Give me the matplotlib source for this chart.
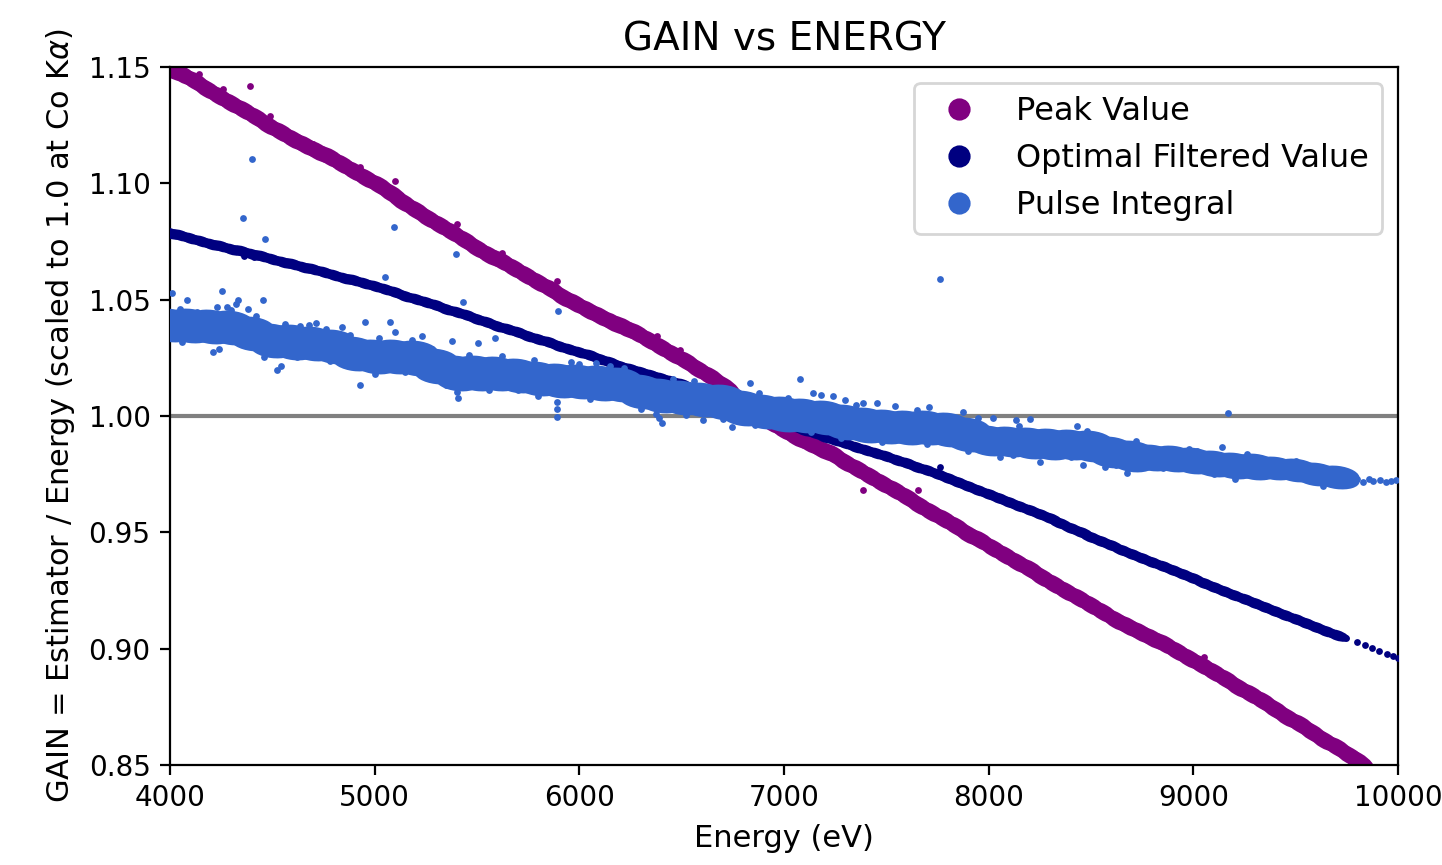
import matplotlib
matplotlib.use("Agg")
import matplotlib.pyplot as plt
from matplotlib.markers import MarkerStyle
from matplotlib.transforms import Affine2D
from matplotlib.lines import Line2D
from matplotlib.ticker import FormatStrFormatter

# ---------------- data ----------------
series_labels = ["Peak Value", "Optimal Filtered Value", "Pulse Integral"]
x_ticks = [4000, 5000, 6000, 7000, 8000, 9000, 10000]
y_ticks = [0.85, 0.90, 0.95, 1.00, 1.05, 1.10, 1.15]

# Peak Value band
peak_energy = [4000, 4060, 4120, 4180, 4240, 4300, 4360, 4420, 4480, 4540,
               4600, 4660, 4720, 4780, 4840, 4900, 4960, 5020, 5080, 5140,
               5200, 5260, 5320, 5380, 5440, 5500, 5560, 5620, 5680, 5740,
               5800, 5860, 5920, 5980, 6040, 6100, 6160, 6220, 6280, 6340,
               6400, 6460, 6520, 6580, 6640, 6700, 6760, 6820, 6880, 6940,
               7000, 7060, 7120, 7180, 7240, 7300, 7360, 7420, 7480, 7540,
               7600, 7660, 7720, 7780, 7840, 7900, 7960, 8020, 8080, 8140,
               8200, 8260, 8320, 8380, 8440, 8500, 8560, 8620, 8680, 8740,
               8800, 8860, 8920, 8980, 9040, 9100, 9160, 9220, 9280, 9340,
               9400, 9460, 9520, 9580, 9640, 9700, 9760, 9800]
peak_gain = [1.1492, 1.1469, 1.1438, 1.1407, 1.1377, 1.1346, 1.1315, 1.1284, 1.1253, 1.1222,
             1.1192, 1.1166, 1.1140, 1.1114, 1.1083, 1.1052, 1.1022, 1.0991, 1.0957, 1.0922,
             1.0887, 1.0852, 1.0822, 1.0791, 1.0755, 1.0721, 1.0693, 1.0667, 1.0636, 1.0606,
             1.0575, 1.0544, 1.0513, 1.0485, 1.0456, 1.0431, 1.0405, 1.0381, 1.0356, 1.0327,
             1.0296, 1.0266, 1.0235, 1.0204, 1.0171, 1.0132, 1.0086, 1.0041, 1.0002, 0.9969,
             0.9938, 0.9909, 0.9884, 0.9859, 0.9835, 0.9804, 0.9773, 0.9742, 0.9711, 0.9680,
             0.9650, 0.9619, 0.9588, 0.9557, 0.9526, 0.9495, 0.9465, 0.9434, 0.9403, 0.9372,
             0.9341, 0.9310, 0.9279, 0.9249, 0.9218, 0.9187, 0.9156, 0.9125, 0.9097, 0.9072,
             0.9047, 0.9020, 0.8991, 0.8960, 0.8929, 0.8899, 0.8868, 0.8837, 0.8806, 0.8775,
             0.8742, 0.8708, 0.8675, 0.8642, 0.8609, 0.8576, 0.8543, 0.8522]
peak_stray_energy = [4142, 4390, 5100, 7386, 7655, 4490, 4930, 5060, 5400, 5890,
                     6380, 6490, 4260, 4700, 5620, 7900, 8450, 9050]
peak_stray_gain = [1.1472, 1.1420, 1.1010, 0.9680, 0.9680, 1.1290, 1.1070, 1.0985, 1.0825, 1.0580,
                   1.0345, 1.0285, 1.1405, 1.1170, 1.0700, 0.9512, 0.9230, 0.8965]

# Optimal Filtered Value band
opt_energy = [4000, 4050, 4100, 4150, 4200, 4250, 4300, 4350, 4400, 4450,
              4500, 4550, 4600, 4650, 4700, 4750, 4800, 4850, 4900, 4950,
              5000, 5050, 5100, 5150, 5200, 5250, 5300, 5350, 5400, 5450,
              5500, 5550, 5600, 5650, 5700, 5750, 5800, 5850, 5900, 5950,
              6000, 6050, 6100, 6150, 6200, 6250, 6300, 6350, 6400, 6450,
              6500, 6550, 6600, 6650, 6700, 6750, 6800, 6850, 6900, 6950,
              7000, 7050, 7100, 7150, 7200, 7250, 7300, 7350, 7400, 7450,
              7500, 7550, 7600, 7650, 7700, 7750, 7800, 7850, 7900, 7950,
              8000, 8050, 8100, 8150, 8200, 8250, 8300, 8350, 8400, 8450,
              8500, 8550, 8600, 8650, 8700, 8750, 8800, 8850, 8900, 8950,
              9000, 9050, 9100, 9150, 9200, 9250, 9300, 9350, 9400, 9450,
              9500, 9550, 9600, 9650, 9700]
opt_gain = [1.0787, 1.0776, 1.0764, 1.0753, 1.0741, 1.0730, 1.0719, 1.0708, 1.0697, 1.0686,
            1.0675, 1.0664, 1.0653, 1.0642, 1.0631, 1.0620, 1.0608, 1.0595, 1.0583, 1.0570,
            1.0558, 1.0545, 1.0532, 1.0518, 1.0505, 1.0492, 1.0477, 1.0462, 1.0448, 1.0433,
            1.0418, 1.0403, 1.0389, 1.0374, 1.0360, 1.0345, 1.0331, 1.0317, 1.0303, 1.0289,
            1.0275, 1.0261, 1.0246, 1.0232, 1.0217, 1.0203, 1.0190, 1.0177, 1.0164, 1.0151,
            1.0138, 1.0122, 1.0106, 1.0090, 1.0074, 1.0058, 1.0040, 1.0023, 1.0005, 0.9988,
            0.9970, 0.9955, 0.9940, 0.9925, 0.9910, 0.9895, 0.9882, 0.9868, 0.9855, 0.9841,
            0.9828, 0.9812, 0.9797, 0.9781, 0.9766, 0.9750, 0.9733, 0.9716, 0.9699, 0.9682,
            0.9665, 0.9648, 0.9631, 0.9614, 0.9597, 0.9580, 0.9560, 0.9540, 0.9520, 0.9500,
            0.9480, 0.9462, 0.9444, 0.9426, 0.9408, 0.9390, 0.9372, 0.9355, 0.9337, 0.9320,
            0.9302, 0.9284, 0.9267, 0.9249, 0.9232, 0.9214, 0.9197, 0.9180, 0.9162, 0.9145,
            0.9128, 0.9111, 0.9094, 0.9077, 0.9060]
opt_stray_energy = [4360, 4410, 7762, 9745, 9800, 9840, 9875, 9905, 9945, 9975, 9998]
opt_stray_gain = [1.0688, 1.0684, 0.9780, 0.9045, 0.9028, 0.9015, 0.9002, 0.8992, 0.8978, 0.8968, 0.8961]

# Pulse Integral band (upper and lower edge of the dense band)
pulse_energy = [4000, 4100, 4200, 4300, 4400, 4500, 4600, 4700, 4800, 4900,
                5000, 5100, 5200, 5300, 5400, 5500, 5600, 5700, 5800, 5900,
                6000, 6100, 6200, 6300, 6400, 6500, 6600, 6700, 6800, 6900,
                7000, 7100, 7200, 7300, 7400, 7500, 7600, 7700, 7800, 7900,
                8000, 8100, 8200, 8300, 8400, 8500, 8600, 8700, 8800, 8900,
                9000, 9100, 9200, 9300, 9400, 9500, 9600, 9700]
pulse_upper_gain = [1.0420, 1.0421, 1.0418, 1.0413, 1.0388, 1.0358, 1.0351, 1.0345, 1.0333, 1.0303,
                    1.0288, 1.0288, 1.0283, 1.0248, 1.0218, 1.0218, 1.0215, 1.0208, 1.0193, 1.0185,
                    1.0181, 1.0175, 1.0168, 1.0138, 1.0121, 1.0113, 1.0105, 1.0093, 1.0068, 1.0053,
                    1.0041, 1.0036, 1.0026, 1.0008, 0.9995, 0.9988, 0.9985, 0.9983, 0.9976, 0.9953,
                    0.9920, 0.9915, 0.9910, 0.9905, 0.9903, 0.9895, 0.9870, 0.9853, 0.9837, 0.9831,
                    0.9823, 0.9812, 0.9803, 0.9798, 0.9786, 0.9776, 0.9760, 0.9746]
pulse_lower_gain = [1.0360, 1.0355, 1.0352, 1.0347, 1.0322, 1.0292, 1.0285, 1.0279, 1.0267, 1.0237,
                    1.0222, 1.0222, 1.0217, 1.0182, 1.0152, 1.0152, 1.0149, 1.0142, 1.0127, 1.0119,
                    1.0115, 1.0109, 1.0102, 1.0072, 1.0055, 1.0047, 1.0039, 1.0027, 1.0002, 0.9987,
                    0.9975, 0.9970, 0.9960, 0.9942, 0.9929, 0.9922, 0.9919, 0.9917, 0.9910, 0.9887,
                    0.9870, 0.9865, 0.9860, 0.9855, 0.9853, 0.9845, 0.9820, 0.9803, 0.9807, 0.9801,
                    0.9793, 0.9782, 0.9773, 0.9768, 0.9770, 0.9760, 0.9744, 0.9730]
pulse_stray_energy = [4010, 4083, 4254, 4332, 4357, 4401, 4454, 4464, 4210, 4635,
                      4713, 4840, 4953, 5051, 5075, 5094, 5099, 5231, 5378, 5397,
                      5432, 5505, 5588, 5895, 6746, 6834, 7078, 7142, 7386, 7454,
                      7542, 7709, 7762, 7875, 8021, 8133, 8202, 8431, 8461, 8568,
                      8676, 9018, 9140, 9170, 9204, 9634,
                      4280, 4320, 4380, 4300, 4523, 4928, 5407, 5400, 5890, 5893,
                      5890, 6000, 6080, 6150, 6375, 6390, 6404, 6605, 7180, 7240,
                      7300, 8055, 8251, 4180, 4620, 5150, 5700, 6250, 6950, 7600, 8350,
                      9740, 9770, 9800, 9830, 9860, 9880, 9910, 9940, 9965, 9990,
                      4050, 4130, 4230, 4420, 4560, 4680, 4760, 4880, 5020, 5180,
                      5280, 5460, 5620, 5780, 5960, 6220, 6460, 6560, 6880, 7020,
                      7350, 7650, 7950, 8150, 8480, 8720, 8980, 9260, 9500,
                      4060, 4240, 4460, 4540, 4780, 5000, 5230, 5350, 5560, 5800,
                      6050, 6300, 6520, 6700, 6860, 7130, 7280, 7480, 7700, 7900,
                      8120, 8400, 8620, 8850, 9100, 9350, 9560]
pulse_stray_gain = [1.0529, 1.0500, 1.0537, 1.0500, 1.0850, 1.1105, 1.0500, 1.0760, 1.0275, 1.0387,
                    1.0400, 1.0383, 1.0404, 1.0597, 1.0404, 1.0812, 1.0360, 1.0344, 1.0322, 1.0696,
                    1.0490, 1.0314, 1.0335, 1.0450, 0.9953, 1.0142, 1.0160, 1.0100, 1.0056, 1.0056,
                    1.0043, 1.0039, 1.0589, 1.0017, 0.9991, 0.9983, 0.9987, 0.9957, 0.9790, 0.9780,
                    0.9755, 0.9850, 0.9867, 1.0013, 0.9729, 0.9700,
                    1.0470, 1.0480, 1.0460, 1.0455, 1.0198, 1.0133, 1.0077, 1.0105, 1.0060, 1.0030,
                    0.9995, 1.0225, 1.0230, 1.0215, 1.0010, 0.9990, 0.9970, 0.9983, 1.0090, 1.0085,
                    1.0070, 0.9824, 0.9802, 1.0330, 1.0255, 1.0190, 1.0110, 1.0075, 0.9965, 0.9895, 0.9835,
                    0.9735, 0.9722, 0.9730, 0.9718, 0.9728, 0.9720, 0.9724, 0.9716, 0.9722, 0.9726,
                    1.0460, 1.0445, 1.0470, 1.0430, 1.0395, 1.0390, 1.0375, 1.0350, 1.0335, 1.0325,
                    1.0290, 1.0262, 1.0258, 1.0240, 1.0232, 1.0205, 1.0160, 1.0150, 1.0098, 1.0078,
                    1.0048, 1.0025, 0.9992, 0.9955, 0.9935, 0.9892, 0.9860, 0.9838, 0.9805,
                    1.0318, 1.0290, 1.0255, 1.0215, 1.0235, 1.0180, 1.0175, 1.0135, 1.0110, 1.0085,
                    1.0072, 1.0030, 1.0005, 0.9988, 0.9960, 0.9930, 0.9905, 0.9890, 0.9880, 0.9850,
                    0.9832, 0.9822, 0.9790, 0.9778, 0.9752, 0.9742, 0.9738]

# ---------------- style ----------------
PEAK_C = "#800080"
OPT_C = "#000080"
PULSE_C = "#3366CC"


def band_marker(stretch, angle):
    return MarkerStyle("o", transform=Affine2D().scale(stretch, 1.0).rotate_deg(angle))


plt.rcParams["font.family"] = ["DejaVu Sans"]
fig = plt.figure(figsize=(7.21, 4.325), dpi=200)
ax = fig.add_axes([0.1179, 0.1156, 0.8516, 0.8069])

ax.axhline(1.0, color="gray", lw=1.5, zorder=1)

# Peak Value
ax.scatter(peak_energy, peak_gain, s=32, marker=band_marker(2.4, -30.3),
           color=PEAK_C, linewidths=0, zorder=2)
ax.scatter(peak_stray_energy, peak_stray_gain, s=6, color=PEAK_C, linewidths=0, zorder=2)

# Optimal Filtered Value
ax.scatter(opt_energy, opt_gain, s=14, marker=band_marker(2.4, -18),
           color=OPT_C, linewidths=0, zorder=3)
ax.scatter(opt_stray_energy, opt_stray_gain, s=6, color=OPT_C, linewidths=0, zorder=3)

# Pulse Integral
ax.scatter(pulse_energy, pulse_upper_gain, s=48, marker=band_marker(2.3, -7),
           color=PULSE_C, linewidths=0, zorder=4)
ax.scatter(pulse_energy, pulse_lower_gain, s=48, marker=band_marker(2.3, -7),
           color=PULSE_C, linewidths=0, zorder=4)
ax.scatter(pulse_stray_energy, pulse_stray_gain, s=6, color=PULSE_C, linewidths=0, zorder=4)

ax.set_xlim(4000, 10000)
ax.set_ylim(0.85, 1.15)
ax.set_xticks(x_ticks)
ax.set_yticks(y_ticks)
ax.yaxis.set_major_formatter(FormatStrFormatter("%.2f"))
ax.tick_params(labelsize=10)

ax.set_title("GAIN vs ENERGY", fontsize=14)
ax.set_xlabel("Energy (eV)", fontsize=11)
ax.set_ylabel(r"GAIN = Estimator / Energy (scaled to 1.0 at Co K$\alpha$)", fontsize=11)

handles = [Line2D([0], [0], marker="o", ls="none", color=c, markersize=7.0)
           for c in (PEAK_C, OPT_C, PULSE_C)]
ax.legend(handles, series_labels, loc="upper right", fontsize=11.5)

fig.savefig("out.png", dpi=200)
